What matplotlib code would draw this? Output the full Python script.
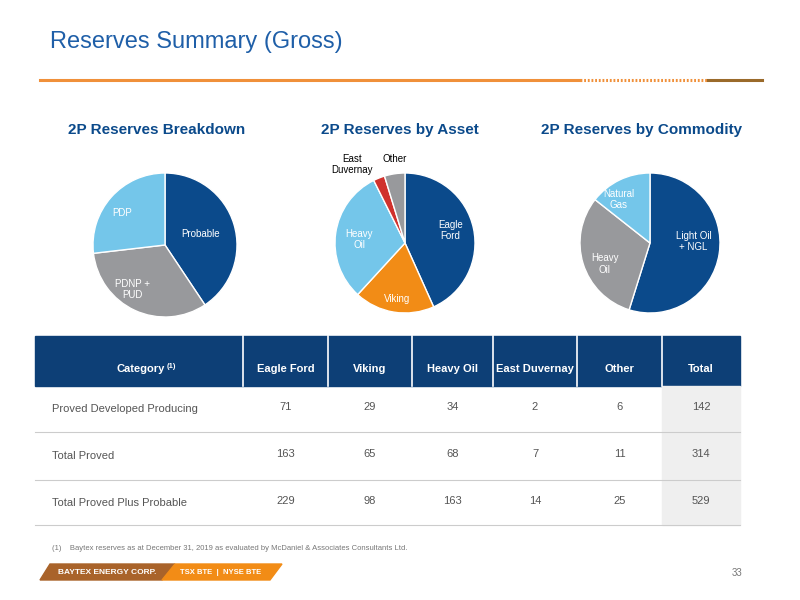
import matplotlib
matplotlib.use("Agg")
import matplotlib.pyplot as plt
from matplotlib.patches import Rectangle, Polygon

plt.rcParams['font.family'] = ['Liberation Sans', 'DejaVu Sans']

breakdown_labels = ["Probable", "PDNP +\nPUD", "PDP"]
breakdown_values = [215, 172, 142]
asset_labels = ["Eagle\nFord", "Viking", "Heavy\nOil", "East\nDuvernay", "Other"]
asset_values = [229, 98, 163, 14, 25]
commodity_labels = ["Light Oil\n+ NGL", "Heavy\nOil", "Natural\nGas"]
commodity_values = [290, 163, 76]

table_header = ["Category", "Eagle Ford", "Viking", "Heavy Oil", "East Duvernay", "Other", "Total"]
row_names = ["Proved Developed Producing", "Total Proved", "Total Proved Plus Probable"]
eagle_ford = [71, 163, 229]
viking = [29, 65, 98]
heavy_oil = [34, 68, 163]
east_duvernay = [2, 7, 14]
other = [6, 11, 25]
total = [142, 314, 529]

DARK = "#0b4a8b"; LIGHT = "#74c6ea"; GRAY = "#98999c"; ORANGE = "#f28c16"; RED = "#d0312d"
TITLE_BLUE = "#1f5fa8"

fig = plt.figure(figsize=(8, 6), dpi=100)
bg = fig.add_axes([0, 0, 1, 1])
bg.set_xlim(0, 800); bg.set_ylim(600, 0); bg.axis("off")

bg.text(50, 42, "Reserves Summary (Gross)", fontsize=17, color=TITLE_BLUE, va="center")
bg.plot([40, 580], [80, 80], color="#f0903a", lw=2.2)
bg.plot([580, 708], [80, 80], color="#f0903a", lw=2.2, ls=(0, (0.6, 0.6)))
bg.plot([708, 762], [80, 80], color="#9a6a2a", lw=2.2)

for x, t in [(157, "2P Reserves Breakdown"), (400, "2P Reserves by Asset"), (642, "2P Reserves by Commodity")]:
    bg.text(x, 130, t, fontsize=11, fontweight="bold", color=DARK, ha="center", va="center")

def pie_axes(cx, cy, r):
    return fig.add_axes([(cx - r) / 800, 1 - (cy + r) / 600, 2 * r / 800, 2 * r / 600])

def fix(ax):
    ax.set_xlim(-1, 1); ax.set_ylim(-1, 1); ax.set_aspect("equal"); ax.axis("off")

wp = dict(edgecolor="white", linewidth=1)
FS = 7
a1 = pie_axes(165, 245, 72)
a1.pie(breakdown_values, colors=[DARK, GRAY, LIGHT], startangle=90, counterclock=False, wedgeprops=wp)
fix(a1)
for (tx, ty, lbl) in [(0.5, 0.15, 0), (-0.45, -0.62, 1), (-0.6, 0.45, 2)]:
    a1.text(tx, ty, breakdown_labels[lbl], color="white", fontsize=FS, ha="center", va="center")

a2 = pie_axes(405, 243, 70)
a2.pie(asset_values, colors=[DARK, ORANGE, LIGHT, RED, GRAY], startangle=90, counterclock=False, wedgeprops=wp)
fix(a2)
a2.text(0.65, 0.18, asset_labels[0], color="white", fontsize=FS, ha="center", va="center")
a2.text(-0.12, -0.8, asset_labels[1], color="white", fontsize=FS, ha="center", va="center")
a2.text(-0.65, 0.05, asset_labels[2], color="white", fontsize=FS, ha="center", va="center")
a2.text(-0.75, 1.12, asset_labels[3], color="black", fontsize=FS, ha="center", va="center")
a2.text(-0.15, 1.2, asset_labels[4], color="black", fontsize=FS, ha="center", va="center")

a3 = pie_axes(650, 243, 70)
a3.pie(commodity_values, colors=[DARK, GRAY, LIGHT], startangle=90, counterclock=False, wedgeprops=wp)
fix(a3)
a3.text(0.62, 0.02, commodity_labels[0], color="white", fontsize=FS, ha="center", va="center")
a3.text(-0.65, -0.3, commodity_labels[1], color="white", fontsize=FS, ha="center", va="center")
a3.text(-0.45, 0.62, commodity_labels[2], color="white", fontsize=FS, ha="center", va="center")

# table
cols = [35, 243, 328, 412, 493, 577, 662, 740]
bg.add_patch(Rectangle((35, 336), 705, 50, color="#0d3f76"))
for i in range(1, 7):
    bg.plot([cols[i], cols[i]], [336, 386], color="white", lw=1.2)
bg.add_patch(Rectangle((662, 386), 78, 139, color="#efefef"))
for i, h in enumerate(table_header):
    cx = (cols[i] + cols[i + 1]) / 2
    if i == 0:
        bg.text(165, 369, h, color="white", fontsize=8, fontweight="bold", ha="right", va="center")
        bg.text(167, 366, "(1)", color="white", fontsize=5.5, fontweight="bold", ha="left", va="center")
    else:
        bg.text(cx, 369, h, color="white", fontsize=8, fontweight="bold", ha="center", va="center")
row_y = [409, 456, 503]
for yl in [432, 480, 525]:
    bg.plot([35, 740], [yl, yl], color="#cccccc", lw=0.8)
data = [eagle_ford, viking, heavy_oil, east_duvernay, other, total]
for r, y in enumerate(row_y):
    bg.text(52, y, row_names[r], color="#555555", fontsize=8, va="center")
    for c, series in enumerate(data):
        cx = (cols[c + 1] + cols[c + 2]) / 2
        bg.text(cx, y - 2, str(series[r]), color="#555555", fontsize=8, ha="center", va="center")

bg.text(52, 548, "(1)    Baytex reserves as at December 31, 2019 as evaluated by McDaniel & Associates Consultants Ltd.",
        fontsize=5.5, color="#777777", va="center")
bg.add_patch(Polygon([(50, 564), (175, 564), (162, 580), (40, 580)], color="#a9632a"))
bg.add_patch(Polygon([(175, 564), (282, 564), (270, 580), (162, 580)], color=ORANGE))
bg.text(58, 572, "BAYTEX ENERGY CORP.", color="white", fontsize=6, fontweight="bold", va="center")
bg.text(180, 572, "TSX BTE  |  NYSE BTE", color="white", fontsize=5.5, fontweight="bold", va="center")
bg.text(742, 573, "33", fontsize=7, color="#777777", ha="right", va="center")

fig.savefig("out.png", dpi=100)
